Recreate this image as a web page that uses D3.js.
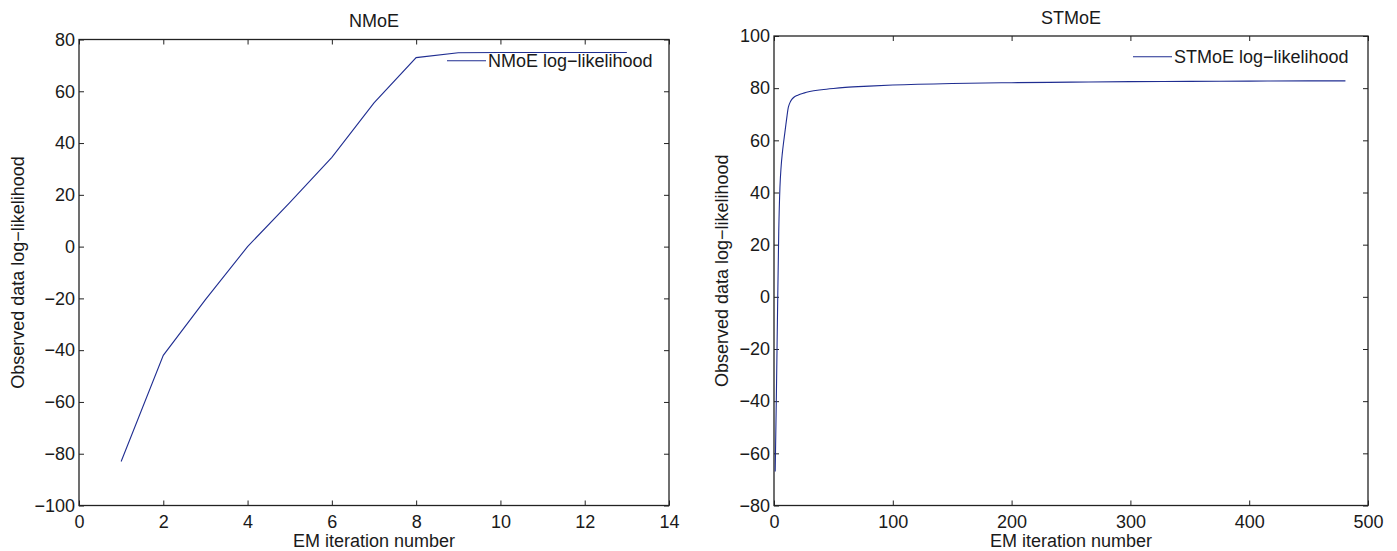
<!DOCTYPE html>
<html>
<head>
<meta charset="utf-8">
<script src="https://cdn.jsdelivr.net/npm/d3@7"></script>
<style>
  html, body { margin: 0; padding: 0; background: #fff; }
  svg { display: block; }
  text { font-family: "Liberation Sans", Arial, Helvetica, sans-serif; fill: #1a1a1a; }
</style>
</head>
<body>
<svg id="chart" width="1397" height="551"></svg>
<script>
// NMoE: observed-data log-likelihood per EM iteration
const nmoeIter = [1, 2, 3, 4, 5, 6, 7, 8, 9, 10, 11, 12, 13];
const nmoeLogLik = [-83, -42, -20.5, 0, 17, 34.5, 55.5, 73, 74.9, 75, 75, 75, 75];

// STMoE: observed-data log-likelihood per EM iteration (sampled along the run)
const stmoeIter = [1, 2, 3, 4, 5, 6, 7, 8, 9, 10, 11, 12, 13, 14, 15, 17, 20, 25, 30, 40, 50, 60, 80, 100, 150, 200, 250, 300, 350, 400, 450, 481];
const stmoeLogLik = [-67, -38, -5, 25, 42, 50, 55, 59, 62.5, 66, 69.5, 72.5, 74, 75, 75.7, 76.6, 77.3, 78.1, 78.7, 79.4, 79.9, 80.3, 80.8, 81.2, 81.8, 82.1, 82.3, 82.5, 82.6, 82.7, 82.8, 82.8];

// Tick values
const nmoeXTicks = [0, 2, 4, 6, 8, 10, 12, 14];
const nmoeYTicks = [-100, -80, -60, -40, -20, 0, 20, 40, 60, 80];
const stmoeXTicks = [0, 100, 200, 300, 400, 500];
const stmoeYTicks = [-80, -60, -40, -20, 0, 20, 40, 60, 80, 100];

// Text
const titles = ["NMoE", "STMoE"];
const legendLabels = ["NMoE log\u2212likelihood", "STMoE log\u2212likelihood"];
const xLabel = "EM iteration number";
const yLabel = "Observed data log\u2212likelihood";

const lineColor = "#1f2d91";
const axisColor = "#222";
const fontSize = 18;
const svg = d3.select("#chart");

function panel(cfg) {
  const x = d3.scaleLinear().domain(cfg.xDomain).range([cfg.left, cfg.right]);
  const y = d3.scaleLinear().domain(cfg.yDomain).range([cfg.bottom, cfg.top]);
  const g = svg.append("g");

  // bottom axis with inward ticks
  const bx = g.append("g").attr("transform", `translate(0,${cfg.bottom})`)
    .call(d3.axisBottom(x).tickValues(cfg.xTicks).tickSizeInner(-5).tickSizeOuter(0).tickPadding(10).tickFormat(d3.format("d")));
  // left axis with inward ticks
  const ly = g.append("g").attr("transform", `translate(${cfg.left},0)`)
    .call(d3.axisLeft(y).tickValues(cfg.yTicks).tickSizeInner(-5).tickSizeOuter(0).tickPadding(4).tickFormat(d3.format("d")));
  // mirrored ticks on top and right
  const tx = g.append("g").attr("transform", `translate(0,${cfg.top})`)
    .call(d3.axisTop(x).tickValues(cfg.xTicks).tickSizeInner(-5).tickSizeOuter(0).tickFormat(""));
  const ry = g.append("g").attr("transform", `translate(${cfg.right},0)`)
    .call(d3.axisRight(y).tickValues(cfg.yTicks).tickSizeInner(-5).tickSizeOuter(0).tickFormat(""));

  [bx, ly, tx, ry].forEach(a => {
    a.select(".domain").remove();
    a.selectAll(".tick line").attr("stroke", axisColor).attr("stroke-width", 1);
    a.selectAll(".tick text").attr("font-size", fontSize).attr("fill", "#1a1a1a")
      .attr("font-family", "Liberation Sans, Arial, sans-serif");
  });

  // axes box
  g.append("rect")
    .attr("x", cfg.left).attr("y", cfg.top)
    .attr("width", cfg.right - cfg.left).attr("height", cfg.bottom - cfg.top)
    .attr("fill", "none").attr("stroke", axisColor).attr("stroke-width", 1.3);

  // data line
  const line = d3.line().x(d => x(d[0])).y(d => y(d[1])).curve(cfg.curve);
  g.append("path")
    .datum(cfg.xs.map((v, i) => [v, cfg.ys[i]]))
    .attr("d", line)
    .attr("fill", "none").attr("stroke", lineColor).attr("stroke-width", 1.1);

  // title
  g.append("text")
    .attr("x", (cfg.left + cfg.right) / 2).attr("y", cfg.top - 12.5)
    .attr("text-anchor", "middle").attr("font-size", fontSize).text(cfg.title);

  // x label
  g.append("text")
    .attr("x", (cfg.left + cfg.right) / 2).attr("y", 547)
    .attr("text-anchor", "middle").attr("font-size", fontSize).text(xLabel);

  // y label
  const cy = (cfg.top + cfg.bottom) / 2;
  g.append("text")
    .attr("transform", `translate(${cfg.yLabelX},${cy}) rotate(-90)`)
    .attr("text-anchor", "middle").attr("dy", "0.35em")
    .attr("font-size", fontSize).text(yLabel);

  // legend (no box)
  g.append("line")
    .attr("x1", cfg.legX).attr("x2", cfg.legX + 39)
    .attr("y1", cfg.legY).attr("y2", cfg.legY)
    .attr("stroke", lineColor).attr("stroke-width", 1.1);
  g.append("text")
    .attr("x", cfg.legX + 41).attr("y", cfg.legY).attr("dy", "0.35em")
    .attr("font-size", fontSize).text(cfg.legend);
}

panel({
  left: 79, right: 669, top: 39.5, bottom: 505.5,
  xDomain: [0, 14], yDomain: [-100, 80],
  xTicks: nmoeXTicks, yTicks: nmoeYTicks,
  xs: nmoeIter, ys: nmoeLogLik, curve: d3.curveLinear,
  title: titles[0], legend: legendLabels[0],
  yLabelX: 18, legX: 447, legY: 60.7
});

panel({
  left: 774, right: 1368, top: 36, bottom: 505.5,
  xDomain: [0, 500], yDomain: [-80, 100],
  xTicks: stmoeXTicks, yTicks: stmoeYTicks,
  xs: stmoeIter, ys: stmoeLogLik, curve: d3.curveMonotoneX,
  title: titles[1], legend: legendLabels[1],
  yLabelX: 722, legX: 1133, legY: 56.7
});
</script>
</body>
</html>
